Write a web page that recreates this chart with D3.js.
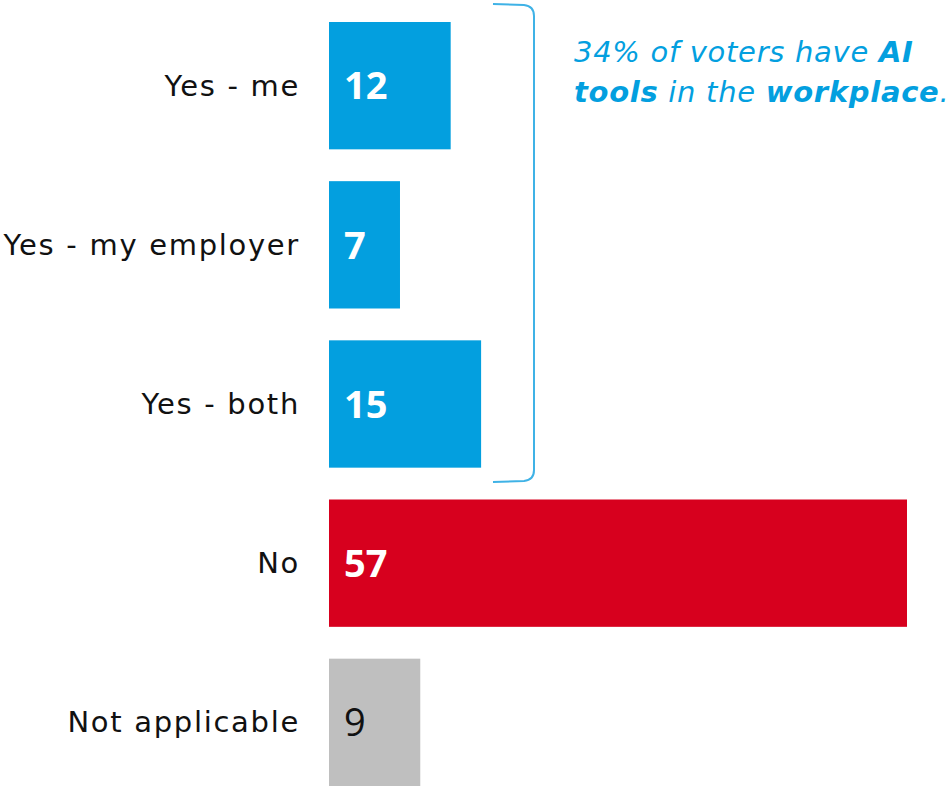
<!DOCTYPE html>
<html><head><meta charset="utf-8">
<script src="https://cdn.jsdelivr.net/npm/d3@7"></script>
<style>body{margin:0;background:#fff;}svg{display:block;}</style>
</head><body>
<svg id="c" width="951" height="787"></svg>
<script>
const categories = ["Yes - me","Yes - my employer","Yes - both","No","Not applicable"];
const values = [12,7,15,57,9];
const barColors = ["#039fdf","#039fdf","#039fdf","#d7001e","#bfbfbf"];
const labelColors = ["#fff","#fff","#fff","#fff","#111"];
const labelWeights = ["bold","bold","bold","bold","normal"];

(function(){
const FONT = "'DejaVu Sans',sans-serif";
const VFONT = "'Open Sans','DejaVu Sans',sans-serif";
const svg = d3.select("#c");
const x = d3.scaleLinear().domain([0,57]).range([329,907]);
const y = d3.scaleBand().domain(categories).range([22,786]).paddingInner(0.2).paddingOuter(0);

svg.selectAll("rect.bar").data(categories).join("rect")
  .attr("x", x(0)).attr("y", d=>y(d))
  .attr("width", (d,i)=>x(values[i])-x(0)).attr("height", y.bandwidth())
  .attr("fill",(d,i)=>barColors[i]);

svg.selectAll("text.cat").data(categories).join("text")
  .attr("x",300).attr("y",d=>y(d)+y.bandwidth()/2)
  .attr("dy","0.35em").attr("text-anchor","end")
  .style("font-family",FONT).style("font-size","29px").style("letter-spacing","1.7px").attr("fill","#111")
  .text(d=>d);

svg.selectAll("text.val").data(categories).join("text")
  .attr("x",344).attr("y",d=>y(d)+y.bandwidth()/2)
  .attr("dy","0.36em")
  .style("font-family",VFONT).style("font-size","38px")
  .style("font-weight",(d,i)=>labelWeights[i])
  .attr("fill",(d,i)=>labelColors[i])
  .text((d,i)=>values[i]);

// bracket
const bx = 534, by0 = 4, by1 = 482, lx = 493;
svg.append("path")
  .attr("d",`M${lx},${by0} L${bx-10},${by0+1} Q${bx},${by0+2} ${bx},${by0+12} L${bx},${by1-12} Q${bx},${by1-2} ${bx-10},${by1-1} L${lx},${by1}`)
  .attr("fill","none").attr("stroke","#3fb2e6").attr("stroke-width",2);

// annotation
const ann = svg.append("text").style("font-family",FONT).style("font-size","29px")
  .style("font-style","italic").style("letter-spacing","0.7px").attr("fill","#039fdf");
const l1 = ann.append("tspan").attr("x",574).attr("y",62);
l1.append("tspan").text("34% of voters have ");
l1.append("tspan").style("font-weight","bold").text("AI");
const l2 = ann.append("tspan").attr("x",574).attr("y",102);
l2.append("tspan").style("font-weight","bold").text("tools");
l2.append("tspan").text(" in the ");
l2.append("tspan").style("font-weight","bold").text("workplace");
l2.append("tspan").text(".");
})();
</script>
</body></html>
